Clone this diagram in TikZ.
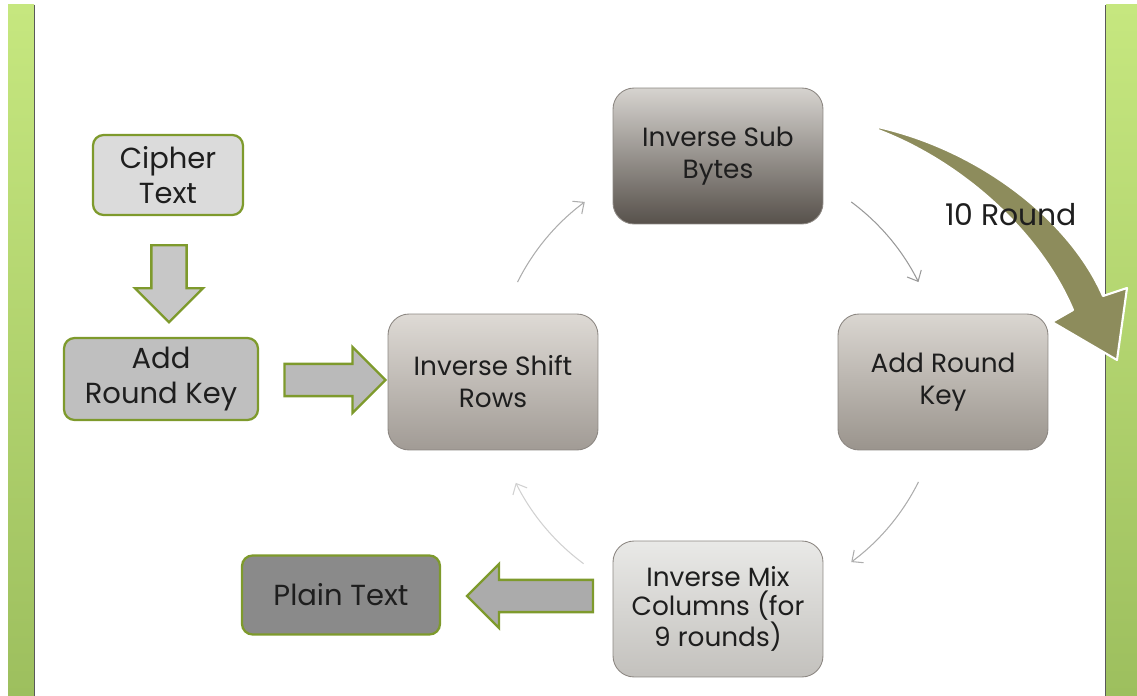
\documentclass[tikz,border=0pt]{standalone}
\usepackage{fontspec}
\setmainfont{Poppins}
\usetikzlibrary{shapes.arrows, arrows.meta}
\definecolor{olv}{HTML}{7E9A2C}
\definecolor{txt}{HTML}{1E1E1E}
\definecolor{bigarr}{HTML}{8D8C5C}
\definecolor{barlt}{HTML}{C6E77F}
\definecolor{bardk}{HTML}{9DBF5E}
\definecolor{rndedge}{HTML}{8C8782}
\definecolor{shiftt}{HTML}{DEDAD5}
\definecolor{shiftb}{HTML}{A19B95}
\definecolor{subt}{HTML}{D6D3CF}
\definecolor{subb}{HTML}{57514B}
\definecolor{keyt}{HTML}{DAD6D1}
\definecolor{keyb}{HTML}{9A948D}
\definecolor{mixt}{HTML}{E9E9E7}
\definecolor{mixb}{HTML}{C3C1BD}
\tikzset{
  inbox/.style = {rectangle, rounded corners=6pt, draw=olv, line width=1.3pt,
                  fill=#1, text=txt, align=center, inner sep=0pt,
                  font=\fontsize{16.5}{20}\selectfont},
  rnd/.style 2 args = {rectangle, rounded corners=12pt, draw=rndedge,
                  line width=0.5pt, top color=#1, bottom color=#2,
                  text=txt, align=center, inner sep=0pt,
                  minimum width=4.2cm, minimum height=2.72cm,
                  font=\fontsize{15}{18.2}\selectfont},
  barr/.style  = {single arrow, draw=olv, line width=1.3pt, fill=#1,
                  inner xsep=0pt},
  cyc/.style   = {-{Straight Barb[length=5pt,width=9pt]}, draw=#1,
                  line width=0.6pt},
}

\begin{document}
\begin{tikzpicture}[x=0.02cm, y=-0.02cm]
  \useasboundingbox (0,0) rectangle (1137,696);

  % side bars
  \shade[top color=barlt, bottom color=bardk] (8,5) rectangle (34,696);
  \draw[black!65, line width=1pt] (34.5,5) -- (34.5,696);
  \shade[top color=barlt, bottom color=bardk] (1106,5) rectangle (1137,696);
  \draw[black!65, line width=1pt] (1105.5,5) -- (1105.5,696);

  % input side
  \node[inbox=black!14, minimum width=3.0cm, minimum height=1.6cm]
    (cipher) at (168,175) {Cipher\\Text};
  \node[barr=black!22, rotate=-90, minimum height=1.54cm, inner ysep=0.33cm,
        single arrow head extend=0.33cm] (dnarr) at (169,275) {};
  \node[inbox=black!25, minimum width=3.88cm, minimum height=1.64cm]
    (addkeyL) at (161,379) {Add\\Round Key};
  \node[barr=black!27, minimum height=2.02cm, inner ysep=0.3cm,
        single arrow head extend=0.34cm] (rtarr) at (327,380) {};

  % round
  \node[rnd={shiftt}{shiftb}] (shift)    at (493,382) {Inverse Shift\\Rows};
  \node[rnd={subt}{subb}]     (subbytes) at (718,156) {Inverse Sub\\Bytes};
  \node[rnd={keyt}{keyb}]     (addkeyR)  at (943,382) {Add Round\\Key};
  \node[rnd={mixt}{mixb}, font=\fontsize{15}{16.5}\selectfont]
    (mixcol) at (718,609) {Inverse Mix\\Columns (for\\9 rounds)};

  % cycle arrows on a circle round the four steps
  \coordinate (ctr) at (shift -| subbytes);
  \draw[cyc=black!32] ([shift={(206.5:224)}]ctr) arc[start angle=206.5, end angle=233.5, radius=224];
  \draw[cyc=black!40] ([shift={(306.5:224)}]ctr) arc[start angle=306.5, end angle=333.5, radius=224];
  \draw[cyc=black!32] ([shift={(26.5:224)}]ctr)  arc[start angle=26.5,  end angle=53.5,  radius=224];
  \draw[cyc=black!18] ([shift={(126.5:226)}]ctr) arc[start angle=126.5, end angle=153.5, radius=226];

  % output side
  \node[barr=black!33, rotate=180, minimum height=2.52cm, inner ysep=0.3cm,
        single arrow head extend=0.32cm] (lfarr) at (538,596) {};
  \node[inbox=black!46, minimum width=3.96cm, minimum height=1.58cm]
    (plain) at (341,595) {Plain Text};

  % 10 rounds
  \filldraw[fill=bigarr, draw=white, line width=1.2pt, line join=round]
    (878,127) .. controls (980,150) and (1070,220) .. (1103,296)
    -- (1127,288) -- (1117,360) -- (1052,322) -- (1073,310)
    .. controls (1040,232) and (962,162) .. (878,130) -- cycle;
  \node[text=txt, font=\fontsize{17}{20}\selectfont] (rounds) at (1011,215) {10 Round};

\end{tikzpicture}
\end{document}
